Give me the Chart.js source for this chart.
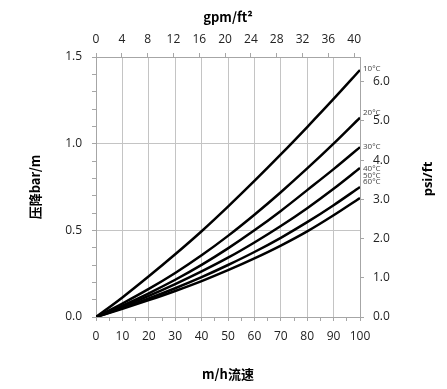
<!DOCTYPE html>
<html>
<head>
<meta charset="utf-8">
<script src="https://cdn.jsdelivr.net/npm/chart.js@4.4.1/dist/chart.umd.min.js"></script>
<style>
  html, body { margin: 0; padding: 0; background: #fff; }
  #wrap { width: 447px; height: 389px; }
</style>
</head>
<body>
<div id="wrap"><canvas id="chart-drop"></canvas></div>
<script>
// flow rate m/h
const flowRates = [0, 10, 20, 30, 40, 50, 60, 70, 80, 90, 100];
const tempLabels = ["10°C", "20°C", "30°C", "40°C", "50°C", "60°C"];

// pressure drop bar/m, one list per water temperature
const drop10C = [0, 0.113, 0.235, 0.362, 0.495, 0.637, 0.785, 0.938, 1.096, 1.258, 1.425];
const drop20C = [0, 0.078, 0.162, 0.254, 0.356, 0.468, 0.59, 0.72, 0.857, 1.0, 1.15];
const drop30C = [0, 0.066, 0.137, 0.215, 0.301, 0.396, 0.5, 0.612, 0.732, 0.853, 0.98];
const drop40C = [0, 0.059, 0.122, 0.19, 0.263, 0.342, 0.43, 0.525, 0.628, 0.74, 0.86];
const drop50C = [0, 0.052, 0.107, 0.166, 0.23, 0.3, 0.375, 0.457, 0.547, 0.645, 0.75];
const drop60C = [0, 0.047, 0.097, 0.15, 0.207, 0.27, 0.338, 0.412, 0.494, 0.587, 0.687];

const allDrops = [drop10C, drop20C, drop30C, drop40C, drop50C, drop60C];

// secondary axes: gpm/ft2 on top, psi/ft on the right
const gpmMax = 100 / 2.445;
const psiMax = 1.5 * 4.42;

// little nudges for the temperature tags at the line ends
const tagOffsetY = [-1, -5, 0, 1, -11, -16];

const GRID = "#c4c4c4";
const AXIS = "#a6a6a6";
const TICK_FONT = { family: "'Open Sans', sans-serif", size: 12 };
const TITLE_FONT = { family: "'Noto Sans CJK SC', 'Open Sans', sans-serif", size: 13, weight: "bold" };

const isMultiple = (v, step) => Math.abs(Math.round(v / step) * step - v) < 1e-6;

const endTags = {
  id: "endTags",
  afterDatasetsDraw(chart) {
    const { ctx, chartArea } = chart;
    ctx.save();
    ctx.font = "8px 'Open Sans', sans-serif";
    ctx.fillStyle = "#444";
    ctx.textBaseline = "middle";
    ctx.textAlign = "left";
    chart.data.datasets.forEach((ds, i) => {
      const pts = chart.getDatasetMeta(i).data;
      const last = pts[pts.length - 1];
      ctx.fillText(ds.label, chartArea.right + 3, last.y + tagOffsetY[i]);
    });
    ctx.restore();
  },
};

const rightTitle = {
  id: "rightTitle",
  afterDraw(chart) {
    const { ctx, chartArea } = chart;
    ctx.save();
    ctx.translate(428, (chartArea.top + chartArea.bottom) / 2 - 8);
    ctx.rotate(-Math.PI / 2);
    ctx.font = "bold 13px 'Open Sans', sans-serif";
    ctx.fillStyle = "#000";
    ctx.textAlign = "center";
    ctx.textBaseline = "middle";
    ctx.fillText("psi/ft", 0, 0);
    ctx.restore();
  },
};

new Chart(document.getElementById("chart-drop"), {
  type: "line",
  data: {
    datasets: allDrops.map((vals, i) => ({
      label: tempLabels[i],
      data: vals.map((y, k) => ({ x: flowRates[k], y })),
      borderColor: "#000",
      borderWidth: 2.5,
      pointRadius: 0,
      cubicInterpolationMode: "monotone",
      xAxisID: "x",
      yAxisID: "y",
    })),
  },
  options: {
    responsive: true,
    maintainAspectRatio: false,
    animation: false,
    layout: { padding: 0 },
    plugins: {
      legend: { display: false },
      tooltip: { enabled: false },
    },
    scales: {
      x: {
        type: "linear",
        position: "bottom",
        min: 0,
        max: 100,
        afterFit: (s) => { s.height = 72; },
        border: { display: true, color: AXIS },
        grid: {
          color: (c) => (isMultiple(c.tick.value, 10) ? GRID : "transparent"),
          tickColor: AXIS,
          tickLength: 4,
        },
        ticks: {
          stepSize: 5,
          autoSkip: false,
          maxRotation: 0,
          padding: 8,
          color: "#222",
          font: TICK_FONT,
          callback: (v) => (isMultiple(v, 10) ? v : ""),
        },
        title: {
          display: true,
          text: "m/h流速",
          color: "#000",
          font: TITLE_FONT,
          padding: { top: 0, bottom: 7 },
        },
      },
      x2: {
        type: "linear",
        position: "top",
        min: 0,
        max: gpmMax,
        afterFit: (s) => { s.height = 57; },
        border: { display: true, color: AXIS },
        grid: { drawOnChartArea: false, tickColor: AXIS, tickLength: 4 },
        ticks: {
          stepSize: 4,
          includeBounds: false,
          autoSkip: false,
          maxRotation: 0,
          padding: 6,
          color: "#222",
          font: TICK_FONT,
        },
        title: {
          display: true,
          text: "gpm/ft²",
          color: "#000",
          font: TITLE_FONT,
          padding: { top: 9, bottom: 0 },
        },
      },
      y: {
        type: "linear",
        position: "left",
        min: 0,
        max: 1.5,
        afterFit: (s) => { s.width = 96; },
        border: { display: true, color: AXIS },
        grid: {
          color: (c) => (isMultiple(c.tick.value, 0.5) && c.tick.value > 0 ? GRID : "transparent"),
          tickColor: AXIS,
          tickLength: 4,
        },
        ticks: {
          stepSize: 0.1,
          autoSkip: false,
          padding: 10,
          color: "#222",
          font: TICK_FONT,
          callback: (v) => (isMultiple(v, 0.5) ? v.toFixed(1) : ""),
        },
        title: {
          display: true,
          text: "压降bar/m",
          color: "#000",
          font: TITLE_FONT,
          padding: { top: 27, bottom: 0 },
        },
      },
      y2: {
        type: "linear",
        position: "right",
        min: 0,
        max: psiMax,
        afterFit: (s) => { s.width = 87; },
        border: { display: true, color: AXIS },
        grid: { drawOnChartArea: false, tickColor: AXIS, tickLength: 4 },
        ticks: {
          stepSize: 1,
          includeBounds: false,
          autoSkip: false,
          padding: 9,
          color: "#222",
          font: TICK_FONT,
          callback: (v) => v.toFixed(1),
        },
      },
    },
  },
  plugins: [endTags, rightTitle],
});
</script>
</body>
</html>
